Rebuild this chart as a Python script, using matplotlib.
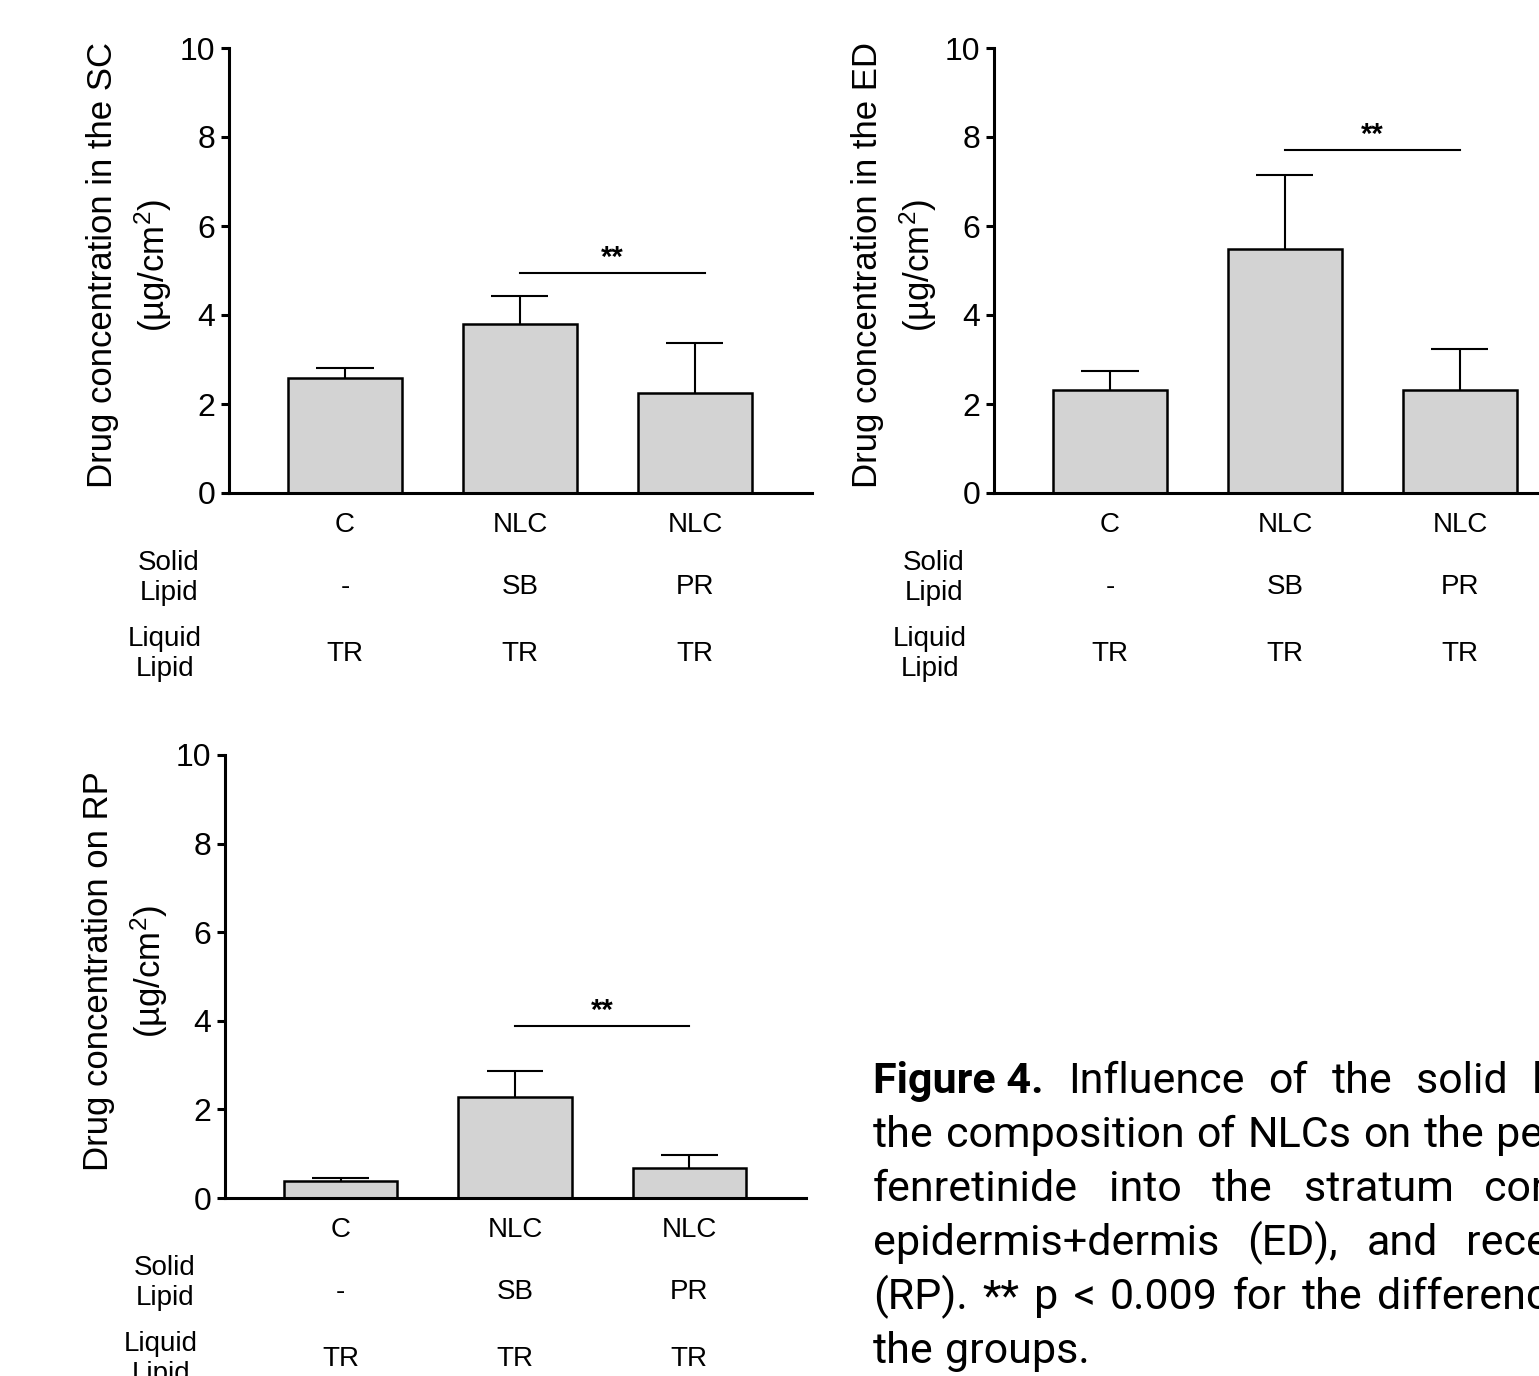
import matplotlib
matplotlib.use("Agg")
import matplotlib.pyplot as plt

plt.rcParams["font.family"] = ["Liberation Sans", "DejaVu Sans"]
plt.rcParams["mathtext.fontset"] = "custom"
plt.rcParams["mathtext.rm"] = "Liberation Sans"
plt.rcParams["mathtext.it"] = "Liberation Sans:italic"
plt.rcParams["mathtext.bf"] = "Liberation Sans:bold"

# data
groups = ["C", "NLC", "NLC"]
solid_lipid = ["-", "SB", "PR"]
liquid_lipid = ["TR", "TR", "TR"]

sc_mean = [2.58, 3.79, 2.24]
sc_sd = [0.24, 0.64, 1.13]
ed_mean = [2.32, 5.48, 2.31]
ed_sd = [0.43, 1.66, 0.93]
rp_mean = [0.38, 2.29, 0.67]
rp_sd = [0.07, 0.57, 0.29]

sc_sig = 4.94
ed_sig = 7.70
rp_sig = 3.88

yticks = [0, 2, 4, 6, 8, 10]

W, H = 1539, 1376
fig = plt.figure(figsize=(W / 100, H / 100), dpi=100)


def rect(left, right, bottom, top):
    return [left / W, 1 - bottom / H, (right - left) / W, (bottom - top) / H]


def draw_panel(ax, means, sds, sig_y, sig_x2, ylabel):
    x = list(range(len(means)))
    ax.bar(x, means, width=0.65, color="#d3d3d3", edgecolor="black", linewidth=1.8, zorder=2)
    tops = [m + s for m, s in zip(means, sds)]
    ax.vlines(x, means, tops, color="black", linewidth=1.5, zorder=1)
    ax.hlines(tops, [i - 0.163 for i in x], [i + 0.163 for i in x], color="black", linewidth=1.5)
    ax.plot([1, sig_x2], [sig_y, sig_y], color="black", linewidth=1.5)
    ax.annotate("**", xy=((1 + sig_x2) / 2, sig_y), xytext=(0, 1), textcoords="offset pixels",
                ha="center", va="bottom", fontsize=21, fontweight="bold")

    ax.set_xlim(-0.663, 2.669)
    ax.set_ylim(0, 10)
    ax.set_yticks(yticks)
    ax.set_xticks([])
    for s in ["top", "right"]:
        ax.spines[s].set_visible(False)
    for s in ["left", "bottom"]:
        ax.spines[s].set_linewidth(2.2)
    ax.tick_params(axis="y", length=6, width=2.2, labelsize=23, pad=4)

    ax.text(-0.170, 0.512, ylabel + "\n(\u00b5g/cm$^{2}$)", rotation=90, ha="center", va="center",
            multialignment="center", fontsize=25, linespacing=1.42, transform=ax.transAxes)

    rows = [(groups, -32), (solid_lipid, -94), (liquid_lipid, -161)]
    for labels, dy in rows:
        for i in x:
            ax.annotate(labels[i], xy=(i, 0), xycoords=("data", "axes fraction"), xytext=(0, dy),
                        textcoords="offset pixels", ha="center", va="center", fontsize=20)
    ax.annotate("Solid\nLipid", xy=(0, 0), xycoords="axes fraction", xytext=(-60, -85),
                textcoords="offset pixels", ha="center", va="center", fontsize=20, linespacing=1.22)
    ax.annotate("Liquid\nLipid", xy=(0, 0), xycoords="axes fraction", xytext=(-64, -161),
                textcoords="offset pixels", ha="center", va="center", fontsize=20, linespacing=1.22)


ax1 = fig.add_axes(rect(229, 812, 493, 48))
draw_panel(ax1, sc_mean, sc_sd, sc_sig, 2.06, "Drug concentration in the SC")

ax2 = fig.add_axes(rect(994, 1577, 493, 48))
draw_panel(ax2, ed_mean, ed_sd, ed_sig, 2.0, "Drug concentration in the ED")

ax3 = fig.add_axes(rect(225, 806, 1198, 755))
draw_panel(ax3, rp_mean, rp_sd, rp_sig, 2.0, "Drug concentration on RP")

# caption: justified lines (baseline y, first word x, last word x, words)
caption = [
    (1093, 873, 1532, ["Figure 4.", "Influence", "of", "the", "solid", "lipid"]),
    (1147, 873, 1496, ["the", "composition", "of", "NLCs", "on", "the", "permeation"]),
    (1201, 873, 1484, ["fenretinide", "into", "the", "stratum", "corneum"]),
    (1255, 873, 1466, ["epidermis+dermis", "(ED),", "and", "receptor"]),
    (1309, 873, 1377, ["(RP).", "**", "p", "<", "0.009", "for", "the", "differences"]),
    (1363, 873, None, ["the", "groups."]),
]
renderer = fig.canvas.get_renderer()
for y, x0, x1, words in caption:
    texts = []
    for w in words:
        t = fig.text(0, 1 - y / H, w, ha="left", va="baseline", fontsize=31,
                     family=["Roboto", "DejaVu Sans"],
                     fontweight="bold" if w == "Figure 4." else "normal")
        texts.append(t)
    widths = [t.get_window_extent(renderer).width for t in texts]
    if x1 is None:
        gap = 11
    else:
        gap = (x1 - x0 - sum(widths[:-1])) / (len(words) - 1)
    xpos = x0
    for t, wd in zip(texts, widths):
        t.set_x(xpos / W)
        xpos += wd + gap

fig.savefig("out.png", dpi=100)
